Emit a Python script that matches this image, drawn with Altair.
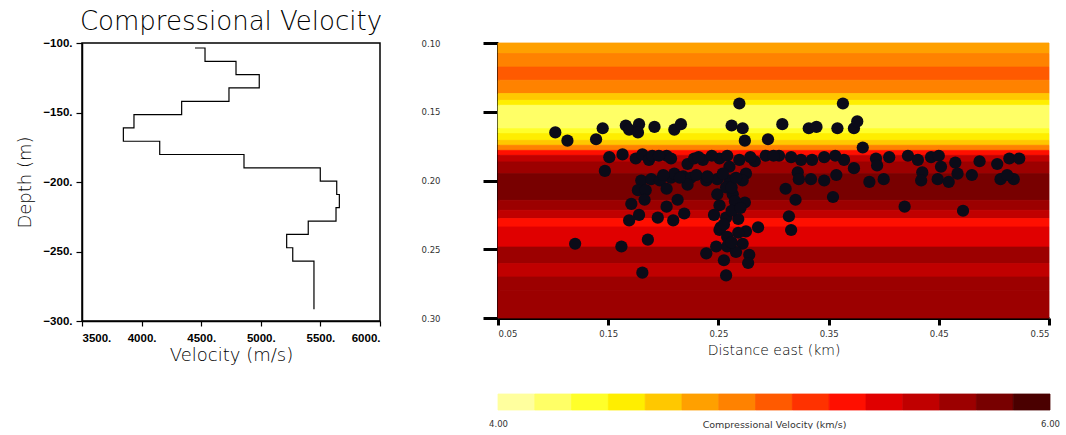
import altair as alt
import pandas as pd

# ---- velocity log (step profile), depth in metres, velocity in m/s ----
depth_m = [-103.6, -113.2, -122.8, -132.3, -142.0, -151.5, -161.0, -170.7, -180.2,
           -189.8, -199.4, -209.0, -218.5, -228.2, -237.7, -247.3, -256.9, -291.6]
velocity_ms = [4448, 4532, 4792, 4987, 4733, 4336, 3936, 3847, 4152,
               4859, 5499, 5637, 5659, 5631, 5398, 5217, 5268, 5446]

# ---- layered velocity model behind the events (depth in km, velocity in km/s) ----
band_top_km = [0.100, 0.1077, 0.1175, 0.1271, 0.1368, 0.1417, 0.1453, 0.1623, 0.1659,
               0.1708, 0.1744, 0.1781, 0.1817, 0.1865, 0.1950, 0.2144, 0.2217, 0.2277,
               0.2338, 0.2484, 0.2604, 0.2702, 0.2799]
band_bottom_km = band_top_km[1:] + [0.300]
band_vel_kms = [4.73, 4.87, 5.00, 4.87, 4.60, 4.47, 4.20, 4.33, 4.47,
                4.60, 4.87, 5.27, 5.53, 5.67, 5.80, 5.67, 5.53, 5.27,
                5.40, 5.67, 5.53, 5.67, 5.67]
east_extent_km = [0.05, 0.55]

# ---- event locations ----
east_km = [0.102, 0.113, 0.139, 0.145, 0.166, 0.169, 0.178, 0.177, 0.192, 0.210, 0.216,
           0.151, 0.163, 0.147, 0.175, 0.181, 0.187, 0.190, 0.203, 0.207, 0.222, 0.228,
           0.180, 0.189, 0.197, 0.207, 0.210, 0.218, 0.225, 0.222,
           0.177, 0.184, 0.203, 0.213, 0.171, 0.183, 0.203,
           0.178, 0.169, 0.195, 0.209, 0.219, 0.120, 0.162, 0.186, 0.181,
           0.269, 0.363, 0.262, 0.272, 0.274, 0.308, 0.295, 0.332, 0.339, 0.358,
           0.373, 0.376, 0.381, 0.236, 0.251, 0.269, 0.283, 0.293, 0.305, 0.325,
           0.335, 0.364, 0.373, 0.239, 0.249, 0.260, 0.275, 0.272, 0.322, 0.323,
           0.334, 0.346, 0.357, 0.311, 0.320, 0.354, 0.249, 0.263, 0.274, 0.251,
           0.246, 0.268, 0.286, 0.275, 0.251, 0.258, 0.314, 0.316, 0.239, 0.248,
           0.258, 0.272, 0.278, 0.255, 0.277, 0.257, 0.266, 0.257, 0.257, 0.252,
           0.393, 0.394, 0.387, 0.400, 0.422, 0.431, 0.443, 0.450, 0.435, 0.434,
           0.449, 0.459, 0.465, 0.467, 0.487, 0.503, 0.514, 0.523, 0.506, 0.518,
           0.419, 0.472, 0.452,
           0.196, 0.232, 0.244, 0.258, 0.279, 0.300, 0.316, 0.346, 0.356, 0.405,
           0.262, 0.265, 0.262, 0.268, 0.262, 0.255, 0.270, 0.260, 0.254, 0.266,
           0.200, 0.215, 0.230, 0.240, 0.480, 0.512]
depth_km = [0.165, 0.171, 0.170, 0.162, 0.160, 0.163, 0.159, 0.165, 0.161, 0.163, 0.159,
            0.183, 0.181, 0.193, 0.184, 0.181, 0.185, 0.182, 0.182, 0.184, 0.188, 0.184,
            0.200, 0.199, 0.200, 0.198, 0.195, 0.197, 0.198, 0.203,
            0.207, 0.207, 0.206, 0.214, 0.217, 0.214, 0.219,
            0.225, 0.229, 0.227, 0.229, 0.224, 0.246, 0.248, 0.243, 0.267,
            0.144, 0.144, 0.160, 0.162, 0.171, 0.159, 0.170, 0.162, 0.161, 0.162,
            0.162, 0.157, 0.176, 0.185, 0.184, 0.185, 0.186, 0.182, 0.182, 0.185,
            0.185, 0.185, 0.191, 0.200, 0.199, 0.200, 0.195, 0.200, 0.194, 0.199,
            0.199, 0.200, 0.196, 0.206, 0.214, 0.212, 0.210, 0.210, 0.216, 0.218,
            0.225, 0.228, 0.234, 0.237, 0.236, 0.241, 0.226, 0.236, 0.253, 0.248,
            0.248, 0.246, 0.254, 0.258, 0.260, 0.269, 0.252, 0.227, 0.205, 0.234,
            0.184, 0.189, 0.201, 0.199, 0.182, 0.185, 0.183, 0.182, 0.194, 0.200,
            0.199, 0.201, 0.187, 0.195, 0.186, 0.188, 0.184, 0.184, 0.199, 0.199,
            0.219, 0.222, 0.190,
            0.182, 0.183, 0.182, 0.182, 0.183, 0.182, 0.183, 0.183, 0.182, 0.183,
            0.205, 0.215, 0.222, 0.238, 0.245, 0.232, 0.220, 0.190, 0.195, 0.198,
            0.196, 0.198, 0.196, 0.197, 0.196, 0.196]

# ---- colour table: 15 classes from 4 to 6 km/s ----
vmin, vmax = 4.0, 6.0
palette = ["#ffff9e", "#ffff66", "#ffff2a", "#ffee00", "#ffc800", "#ffa000", "#ff8200",
           "#ff5a00", "#ff3200", "#ff0f00", "#e00000", "#c00000", "#9c0000", "#780000",
           "#4a0000"]
n_cls = len(palette)
step = (vmax - vmin) / n_cls
thresholds = [round(vmin + step * k, 4) for k in range(1, n_cls)]
vel_scale = alt.Scale(type="threshold", domain=thresholds, range=palette)

SANS = "DejaVu Sans"
BOLD = "Liberation Sans"

# ---------------- left panel: velocity log ----------------
profile = pd.DataFrame({"depth": depth_m, "velocity": velocity_ms,
                        "idx": list(range(len(depth_m)))})
left = alt.Chart(profile).mark_line(
    color="black", strokeWidth=1.2, interpolate="step-after"
).encode(
    x=alt.X("velocity:Q",
            scale=alt.Scale(domain=[3500, 6000], nice=False, zero=False),
            axis=alt.Axis(values=[3500, 4000, 4500, 5000, 5500, 6000],
                          labelExpr="format(datum.value, 'd') + '.'",
                          title="Velocity (m/s)", grid=False,
                          labelFont=BOLD, labelFontWeight="bold", labelFontSize=11.5,
                          labelColor="black", labelPadding=6,
                          tickSize=5, tickColor="black", tickWidth=1.2,
                          domainColor="black", domainWidth=1.5,
                          titleFont=SANS, titleFontSize=18, titleFontWeight=300,
                          titleColor="black", titlePadding=3)),
    y=alt.Y("depth:Q",
            scale=alt.Scale(domain=[-300, -100], nice=False, zero=False),
            axis=alt.Axis(values=[-300, -250, -200, -150, -100],
                          labelExpr="format(datum.value, 'd') + '.'",
                          title="Depth (m)", grid=False,
                          labelFont=BOLD, labelFontWeight="bold", labelFontSize=11.5,
                          labelColor="black", labelPadding=4,
                          tickSize=6, tickColor="black", tickWidth=1.2,
                          domainColor="black", domainWidth=1.5,
                          titleFont=SANS, titleFontSize=18, titleFontWeight=300,
                          titleColor="black", titlePadding=8)),
    order="idx:Q",
).properties(
    width=298, height=278,
    view=alt.ViewBackground(stroke="black", strokeWidth=1.5),
    title=alt.TitleParams("Compressional Velocity", font=SANS, fontSize=26,
                          fontWeight=300, color="black", anchor="middle",
                          frame="group", offset=2),
)

# ---------------- right panel: model + events ----------------
bands = pd.DataFrame({"top": band_top_km, "bottom": band_bottom_km, "vel": band_vel_kms,
                      "e0": east_extent_km[0], "e1": east_extent_km[1]})
x_axis = alt.Axis(values=[0.05, 0.15, 0.25, 0.35, 0.45, 0.55], format=".2f",
                  title="Distance east (km)", grid=False,
                  labelFont=SANS, labelFontSize=8.5, labelColor="#333333",
                  labelPadding=4, tickSize=7, tickWidth=3, tickColor="black",
                  domainColor="black", domainWidth=3,
                  titleFont=SANS, titleFontSize=14, titleFontWeight=300,
                  titleColor="black", titlePadding=6)
y_axis = alt.Axis(values=[0.10, 0.15, 0.20, 0.25, 0.30], format=".2f", title=None,
                  grid=False, labelFont=SANS, labelFontSize=8.5, labelColor="#333333",
                  labelPadding=43, tickSize=15, tickWidth=3, tickColor="black",
                  domainColor="black", domainWidth=3)
x_sc = alt.Scale(domain=east_extent_km, nice=False, zero=False)
y_sc = alt.Scale(domain=[0.10, 0.30], nice=False, zero=False, reverse=True)

background = alt.Chart(bands).mark_rect(strokeWidth=0.8).encode(
    x=alt.X("e0:Q", scale=x_sc, axis=x_axis),
    x2="e1:Q",
    y=alt.Y("top:Q", scale=y_sc, axis=y_axis),
    y2="bottom:Q",
    color=alt.Color("vel:Q", scale=vel_scale, legend=None),
    stroke=alt.Stroke("vel:Q", scale=vel_scale, legend=None),
)

events = pd.DataFrame({"east": east_km, "depth": depth_km})
dots = alt.Chart(events).mark_circle(size=150, color="#0b0b18", opacity=1).encode(
    x=alt.X("east:Q", scale=x_sc, axis=x_axis),
    y=alt.Y("depth:Q", scale=y_sc, axis=y_axis),
)

right = alt.layer(background, dots).properties(
    width=551, height=275,
    view=alt.ViewBackground(stroke="transparent"),
)

# ---------------- colour bar ----------------
cls_lo = [vmin + step * k for k in range(n_cls)]
cbar_df = pd.DataFrame({"lo": cls_lo, "hi": [v + step for v in cls_lo],
                        "mid": [v + step / 2 for v in cls_lo]})
cbar = alt.Chart(cbar_df).mark_rect(strokeWidth=0.8).encode(
    x=alt.X("lo:Q", scale=alt.Scale(domain=[vmin, vmax], nice=False, zero=False),
            axis=alt.Axis(values=[vmin, vmax], format=".2f",
                          title="Compressional Velocity (km/s)",
                          domain=False, ticks=False, grid=False,
                          labelFont=SANS, labelFontSize=8.5, labelColor="#333333",
                          labelPadding=9, labelFlush=False,
                          titleFont=SANS, titleFontSize=9.5, titleFontWeight="normal",
                          titleColor="#333333", titleY=14, titleBaseline="middle")),
    x2="hi:Q",
    color=alt.Color("mid:Q", scale=vel_scale, legend=None),
    stroke=alt.Stroke("mid:Q", scale=vel_scale, legend=None),
).properties(width=552, height=16, view=alt.ViewBackground(stroke="transparent"))

chart = alt.hconcat(
    left,
    alt.vconcat(right, cbar, spacing=76, bounds="flush"),
    spacing=118, bounds="flush",
).properties(
    background="white",
    padding={"left": 16, "top": 8, "right": 0, "bottom": 0},
)

chart.save("out.html", embed_options={"renderer": "svg", "actions": False})
